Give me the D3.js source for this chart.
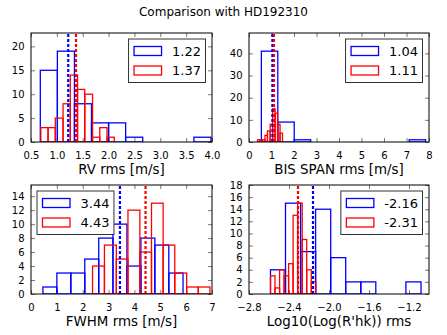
<!DOCTYPE html>
<html>
<head>
<meta charset="UTF-8">
<script src="https://d3js.org/d3.v7.min.js"></script>
<style>
  body { margin: 0; background: #fff; }
  svg text { font-family: "DejaVu Sans", sans-serif; fill: #000; }
</style>
</head>
<body>
<div id="chart"></div>
<script>
// ---- data (bin edges + counts per sample) ----
var titleText = "Comparison with HD192310";

// RV rms
var rvBlueEdges = [0.68, 1.01, 1.34, 1.67, 2.00, 2.33, 2.66, 2.99, 3.32, 3.65, 3.98];
var rvBlueCounts = [15, 19, 8, 4, 4, 1, 0, 0, 0, 1];
var rvRedEdges = [0.69, 0.83, 0.97, 1.12, 1.26, 1.40, 1.54, 1.69, 1.83, 1.97, 2.11];
var rvRedCounts = [3, 3, 5, 8, 14, 11, 10, 1, 3, 1];
var rvMedians = [1.22, 1.37];
var rvLegend = ["1.22", "1.37"];
var rvXTicks = [0.5, 1.0, 1.5, 2.0, 2.5, 3.0, 3.5, 4.0];
var rvXLabels = ["0.5", "1.0", "1.5", "2.0", "2.5", "3.0", "3.5", "4.0"];
var rvYTicks = [0, 5, 10, 15, 20];

// BIS SPAN rms
var bisBlueEdges = [0.55, 1.28, 2.01, 2.74, 3.47, 4.20, 4.93, 5.66, 6.39, 7.12, 7.85];
var bisBlueCounts = [41, 9, 1, 0, 0, 0, 0, 0, 0, 1];
var bisRedEdges = [0.38, 0.49, 0.60, 0.71, 0.82, 0.94, 1.05, 1.16, 1.27, 1.38, 1.49];
var bisRedCounts = [1, 1, 1, 3, 5, 8, 15, 13, 8, 4];
var bisMedians = [1.04, 1.11];
var bisLegend = ["1.04", "1.11"];
var bisXTicks = [0, 1, 2, 3, 4, 5, 6, 7, 8];
var bisXLabels = ["0", "1", "2", "3", "4", "5", "6", "7", "8"];
var bisYTicks = [0, 10, 20, 30, 40];

// FWHM rms
var fwBlueEdges = [0.46, 1.00, 1.54, 2.08, 2.62, 3.17, 3.71, 4.25, 4.79, 5.33, 5.88];
var fwBlueCounts = [1, 3, 3, 5, 8, 10, 4, 8, 7, 3];
var fwRedEdges = [2.38, 2.84, 3.30, 3.75, 4.21, 4.66, 5.11, 5.56, 6.02, 6.47, 6.92];
var fwRedCounts = [4, 7, 5, 12, 6, 13, 7, 3, 1, 1];
var fwMedians = [3.44, 4.43];
var fwLegend = ["3.44", "4.43"];
var fwXTicks = [0, 1, 2, 3, 4, 5, 6, 7];
var fwXLabels = ["0", "1", "2", "3", "4", "5", "6", "7"];
var fwYTicks = [0, 2, 4, 6, 8, 10, 12, 14];

// log R'hk rms
var rhkBlueEdges = [-2.585, -2.435, -2.284, -2.134, -1.983, -1.833, -1.682, -1.532, -1.381, -1.231, -1.080];
var rhkBlueCounts = [4, 15, 7, 14, 6, 2, 2, 0, 0, 2];
var rhkRedEdges = [-2.585, -2.540, -2.494, -2.449, -2.404, -2.359, -2.313, -2.268, -2.223, -2.177, -2.132];
var rhkRedCounts = [3, 1, 4, 3, 5, 13, 15, 9, 4, 2];
var rhkMedians = [-2.16, -2.31];
var rhkLegend = ["-2.16", "-2.31"];
var rhkXTicks = [-2.8, -2.4, -2.0, -1.6, -1.2];
var rhkXLabels = ["\u22122.8", "\u22122.4", "\u22122.0", "\u22121.6", "\u22121.2"];
var rhkYTicks = [0, 2, 4, 6, 8, 10, 12, 14, 16, 18];

var colors = ["#0000ff", "#ff0000"];

// panel table built from the arrays above
var panels = [
  {edges: [rvBlueEdges, rvRedEdges], counts: [rvBlueCounts, rvRedCounts], medians: rvMedians,
   legend: rvLegend, xDomain: [0.5, 4.0], xTicks: rvXTicks, xLabels: rvXLabels, yTicks: rvYTicks,
   label: "RV rms [m/s]", col: 0, row: 0, legendSide: "right"},
  {edges: [bisBlueEdges, bisRedEdges], counts: [bisBlueCounts, bisRedCounts], medians: bisMedians,
   legend: bisLegend, xDomain: [0, 8], xTicks: bisXTicks, xLabels: bisXLabels, yTicks: bisYTicks,
   label: "BIS SPAN rms [m/s]", col: 1, row: 0, legendSide: "right"},
  {edges: [fwBlueEdges, fwRedEdges], counts: [fwBlueCounts, fwRedCounts], medians: fwMedians,
   legend: fwLegend, xDomain: [0, 7], xTicks: fwXTicks, xLabels: fwXLabels, yTicks: fwYTicks,
   label: "FWHM rms [m/s]", col: 0, row: 1, legendSide: "left"},
  {edges: [rhkBlueEdges, rhkRedEdges], counts: [rhkBlueCounts, rhkRedCounts], medians: rhkMedians,
   legend: rhkLegend, xDomain: [-2.8, -1.0], xTicks: rhkXTicks, xLabels: rhkXLabels, yTicks: rhkYTicks,
   label: "Log10(Log(R'hk)) rms", col: 1, row: 1, legendSide: "right"}
];

// layout
var W = 447, H = 335;
var colX = [[31, 212], [249, 429]];
var rowY = [[33, 142], [185, 294]];

var svg = d3.select("#chart").append("svg")
  .attr("width", W).attr("height", H);

svg.append("text")
  .attr("x", W / 2).attr("y", 16)
  .attr("text-anchor", "middle")
  .attr("font-size", "12px")
  .text(titleText);

panels.forEach(function(p, pi) {
  var x0 = colX[p.col][0], x1 = colX[p.col][1];
  var y0 = rowY[p.row][0], y1 = rowY[p.row][1];
  var maxCount = d3.max(p.counts.map(function(c) { return d3.max(c); }));

  var x = d3.scaleLinear().domain(p.xDomain).range([x0, x1]);
  var y = d3.scaleLinear().domain([0, maxCount * 1.2]).range([y1, y0]);

  var g = svg.append("g");

  svg.append("clipPath").attr("id", "clip" + pi)
    .append("rect").attr("x", x0).attr("y", y0)
    .attr("width", x1 - x0).attr("height", y1 - y0);

  // ticks inside, on all four sides
  var tickCol = "#7a7a7a";
  var bottom = g.append("g").attr("transform", "translate(0," + y1 + ")")
    .call(d3.axisBottom(x).tickValues(p.xTicks).tickSize(-4).tickPadding(9.5)
      .tickFormat(function(d, i) { return p.xLabels[i]; }));
  var top = g.append("g").attr("transform", "translate(0," + y0 + ")")
    .call(d3.axisTop(x).tickValues(p.xTicks).tickSize(-4).tickFormat(""));
  var left = g.append("g").attr("transform", "translate(" + x0 + ",0)")
    .call(d3.axisLeft(y).tickValues(p.yTicks).tickSize(-4).tickPadding(6.5));
  var right = g.append("g").attr("transform", "translate(" + x1 + ",0)")
    .call(d3.axisRight(y).tickValues(p.yTicks).tickSize(-4).tickFormat(""));
  [bottom, top, left, right].forEach(function(a) {
    a.select(".domain").remove();
    a.selectAll("line").attr("stroke", tickCol).attr("stroke-width", 1);
    a.selectAll("text").attr("font-size", "10px").attr("font-family", "DejaVu Sans").attr("fill", "#000");
  });

  var plot = g.append("g").attr("clip-path", "url(#clip" + pi + ")");

  // histogram bars, outlined only
  [0, 1].forEach(function(s) {
    var edges = p.edges[s];
    plot.append("g").selectAll("rect")
      .data(p.counts[s])
      .join("rect")
      .attr("x", function(d, i) { return x(edges[i]); })
      .attr("width", function(d, i) { return x(edges[i + 1]) - x(edges[i]); })
      .attr("y", function(d) { return y(d); })
      .attr("height", function(d) { return y(0) - y(d); })
      .attr("fill", "none")
      .attr("stroke", colors[s])
      .attr("stroke-width", 1.3);
  });

  // median lines
  [0, 1].forEach(function(s) {
    plot.append("line")
      .attr("x1", x(p.medians[s])).attr("x2", x(p.medians[s]))
      .attr("y1", y1).attr("y2", y0)
      .attr("stroke", colors[s])
      .attr("stroke-width", 2.2)
      .attr("stroke-dasharray", "3,2");
  });

  // frame
  g.append("rect")
    .attr("x", x0).attr("y", y0)
    .attr("width", x1 - x0).attr("height", y1 - y0)
    .attr("fill", "none").attr("stroke", "#000").attr("stroke-width", 1);

  // axis label
  g.append("text")
    .attr("x", (x0 + x1) / 2).attr("y", y1 + 31.5)
    .attr("text-anchor", "middle")
    .attr("font-size", "13.4px")
    .text(p.label);

  // legend
  var leg = g.append("g");
  var box = leg.append("rect").attr("fill", "#fff").attr("stroke", "#333").attr("stroke-width", 1);
  var texts = [];
  p.legend.forEach(function(t, s) {
    leg.append("rect")
      .attr("x", 5.5).attr("y", 7.5 + s * 19.5)
      .attr("width", 27.5).attr("height", 9)
      .attr("fill", "none").attr("stroke", colors[s]).attr("stroke-width", 1.3);
    texts.push(leg.append("text")
      .attr("x", 43.5).attr("y", 16.5 + s * 19.5)
      .attr("font-size", "13px")
      .text(t));
  });
  var tw = d3.max(texts.map(function(t) { return t.node().getComputedTextLength(); }));
  var bw = 43.5 + tw + 4.5, bh = 43.5;
  box.attr("x", 0).attr("y", 0).attr("width", bw).attr("height", bh);
  var lx = p.legendSide === "right" ? x1 - 6.5 - bw : x0 + 6;
  leg.attr("transform", "translate(" + lx + "," + (y0 + 6) + ")");
});
</script>
</body>
</html>
